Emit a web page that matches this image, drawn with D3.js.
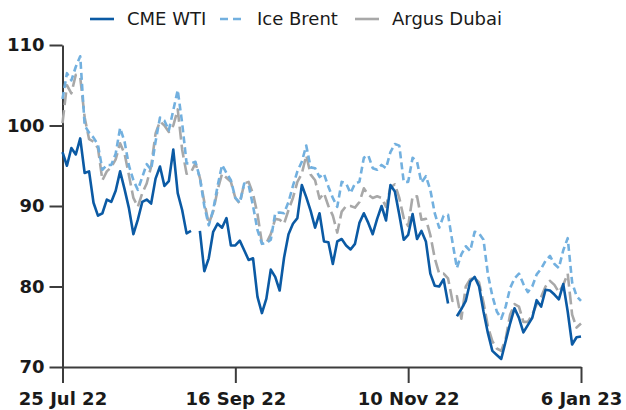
<!DOCTYPE html>
<html>
<head>
<meta charset="utf-8">
<script src="https://cdn.jsdelivr.net/npm/d3@7"></script>
<style>
  body { margin: 0; background: #fff; }
  svg { display: block; font-family: "DejaVu Sans", sans-serif; }
</style>
</head>
<body>
<div id="chart-area"></div>
<script>
// trading days on the x axis: weekdays, minus the days no series traded
const START = "2022-07-25"
const END = "2023-01-06"
const closedDays = ["2022-12-26", "2023-01-02"]
const tickDates = ["2022-07-25", "2022-09-16", "2022-11-10", "2023-01-06"]
const yTicks = [70, 80, 90, 100, 110]

const seriesNames = ["CME WTI", "Ice Brent", "Argus Dubai"]

// $/bl, one value per trading day, null = no settlement that day
const wti = [
  96.7, 95.0, 97.2, 96.4, 98.4, 94.1, 94.3, 90.4, 88.8, 89.1,
  90.8, 90.5, 91.9, 94.3, 92.1, 89.7, 86.5, 88.3, 90.5, 90.8,
  90.3, 93.4, 94.9, 92.5, 93.1, 97.0, 91.6, 89.5, 86.6, 86.9,
  null, 86.9, 81.9, 83.5, 86.8, 87.8, 87.3, 88.5, 85.1, 85.1,
  85.7, 84.5, 83.3, 83.5, 78.7, 76.7, 78.5, 82.1, 81.2, 79.5,
  83.6, 86.5, 87.8, 88.5, 92.6, 91.1, 89.4, 87.3, 89.1, 85.6,
  85.5, 82.8, 85.6, 85.9, 85.1, 84.6, 85.3, 87.9, 89.1, 87.9,
  86.5, 88.4, 90.0, 88.2, 92.6, 91.8, 88.9, 85.8, 86.4, 89.0,
  85.9, 86.9, 85.6, 81.6, 80.1, 80.0, 80.9, 77.9, null, 76.3,
  77.2, 78.2, 80.6, 81.2, 80.0, 76.9, 74.2, 72.0, 71.5, 71.0,
  73.2, 75.4, 77.3, 76.1, 74.3, 75.2, 76.1, 78.3, 77.5, 79.6,
  79.5, 79.0, 78.4, 80.3, 76.9, 72.8, 73.7, 73.8
]

const brent = [
  103.3, 106.5, 105.6, 107.3, 108.6, 100.0, 99.1, 98.5, 97.6, 94.5,
  95.1, 95.1, 96.5, 99.7, 98.0, 95.0, 93.2, 92.0, 93.6, 95.2,
  94.5, 98.0, 101.0, 100.6, 99.4, 101.9, 104.4, 100.3, 95.3, 95.3,
  95.5, 93.5, 90.0, 87.6, 89.5, 92.5, 95.1, 94.1, 93.2, 91.0,
  90.4, 92.8, 92.6, 90.0, 87.0, 85.3, 85.4, 85.8, 89.1, 89.2,
  89.1, 90.5, 92.5, 94.3, 95.5, 97.5, 94.8, 94.7, 93.6, 94.0,
  92.4, 91.0, 89.9, 93.0, 92.8, 91.6, 92.8, 93.0, 96.0, 96.3,
  94.7, 94.5, 95.1, 94.7, 96.7, 97.7, 97.5, 93.0, 93.0, 96.0,
  95.5, 92.9, 93.7, 92.0, 89.1, 87.3, 88.8, 88.9, 85.5, 82.3,
  84.0, 85.0, 84.4, 86.8, 86.6, 85.8, 81.5, 78.8, 76.9, 76.0,
  77.5, 79.8, 81.0, 81.6, 80.3, 79.3, 80.0, 81.5, 82.2, 83.2,
  83.8, 82.8, 82.3, 84.5, 86.0, 80.5, 78.8, 78.2
]

const dubai = [
  100.3, 105.0, 104.0, 106.3, 106.0, 101.0, 98.3, 98.0, 97.2, 93.2,
  94.3, 94.8, 95.8, 97.8, 96.5, 93.8, 91.0, 89.9, 91.6, 92.8,
  94.9, 99.0, 100.5, 100.0, 99.2, 100.0, 102.0, 97.0, 94.0, 94.2,
  95.3, 93.5, 90.5, 87.8, 89.3, 92.0, 94.0, 93.5, 93.0, 91.0,
  90.3, 92.8, 93.0, 91.5, 89.0, 85.4, 85.4, 86.5, 88.4, 88.3,
  87.8, 89.5, 91.0, 93.0, 94.0, 96.3, 93.9, 93.2, 90.9, 91.6,
  90.0, 88.8, 86.7, 89.3, 90.0, 90.0, 89.8, 90.5, 92.2, 91.4,
  91.0, 91.2, 91.0, 89.9, 92.3, 92.7, 91.0, 88.5, 87.5, 91.2,
  91.2, 88.3, 88.4, 86.4, 83.5, 81.6, 81.6, 81.0, 78.2, 78.8,
  76.0, 80.0, 80.9, 81.1, 80.5, 78.0, 75.0, 73.2, 72.3, 72.0,
  73.5, 76.5, 77.8, 77.5, 75.6, 75.6, 76.5, 77.8, 78.7, 80.0,
  80.7, 80.2, 79.3, 80.2, 81.6, 76.5, 74.9, 75.4
]

const W = 626, H = 410
const MARGIN = { LEFT: 62.5, RIGHT: 45, TOP: 45, BOTTOM: 43 }

const parse = d3.timeParse("%Y-%m-%d")
const fmtKey = d3.timeFormat("%Y-%m-%d")
const fmtTick = d3.timeFormat("%-d %b %y")

const days = d3.timeDay.range(parse(START), d3.timeDay.offset(parse(END), 1))
  .filter(d => d.getDay() !== 0 && d.getDay() !== 6)
  .map(fmtKey)
  .filter(k => !closedDays.includes(k))

const svg = d3.select("#chart-area").append("svg")
  .attr("width", W)
  .attr("height", H)

const x = d3.scalePoint()
  .domain(days)
  .range([MARGIN.LEFT, W - MARGIN.RIGHT])

const y = d3.scaleLinear()
  .domain([70, 110])
  .range([H - MARGIN.BOTTOM, MARGIN.TOP])

// axes
const xAxis = svg.append("g")
  .attr("transform", `translate(0, ${H - MARGIN.BOTTOM})`)
  .call(d3.axisBottom(x)
    .tickValues(tickDates)
    .tickFormat(k => fmtTick(parse(k)))
    .tickSize(16)
    .tickSizeOuter(0)
    .tickPadding(9))

const yAxis = svg.append("g")
  .attr("transform", `translate(${MARGIN.LEFT}, 0)`)
  .call(d3.axisLeft(y)
    .tickValues(yTicks)
    .tickSize(13)
    .tickSizeOuter(0)
    .tickPadding(5))

svg.selectAll(".domain, .tick line")
  .attr("stroke", "#3c3c3c")
  .attr("stroke-width", 2)

svg.selectAll(".tick text")
  .attr("fill", "#1a1a1a")
  .style("font-size", "18px")
  .style("font-weight", "bold")
  .style("font-family", "'DejaVu Sans', sans-serif")

// lines
const series = [
  { name: seriesNames[2], values: dubai, color: "#a8a8a8", dash: "13,5" },
  { name: seriesNames[1], values: brent, color: "#72b0df", dash: "7,4" },
  { name: seriesNames[0], values: wti, color: "#0b5aa4", dash: null }
]

const line = d3.line()
  .defined(d => d.v != null)
  .x(d => x(d.day))
  .y(d => y(d.v))

series.forEach(s => {
  svg.append("path")
    .datum(s.values.map((v, i) => ({ day: days[i], v: v })))
    .attr("fill", "none")
    .attr("stroke", s.color)
    .attr("stroke-width", 2.6)
    .attr("stroke-linejoin", "round")
    .attr("stroke-dasharray", s.dash)
    .attr("d", line)
})

// legend
const legendX = [90, 220, 355]
const legend = svg.append("g").attr("transform", "translate(0, 19)")
series.slice().reverse().forEach((s, i) => {
  const lg = legend.append("g").attr("transform", `translate(${legendX[i]}, 0)`)
  lg.append("line")
    .attr("x1", 0).attr("x2", 24)
    .attr("stroke", s.color)
    .attr("stroke-width", 2.6)
    .attr("stroke-dasharray", s.name === "Ice Brent" ? "8,5" : null)
  lg.append("text")
    .attr("x", 37)
    .attr("dy", "0.35em")
    .attr("fill", "#1a1a1a")
    .style("font-size", "18px")
    .text(s.name)
})
</script>
</body>
</html>
